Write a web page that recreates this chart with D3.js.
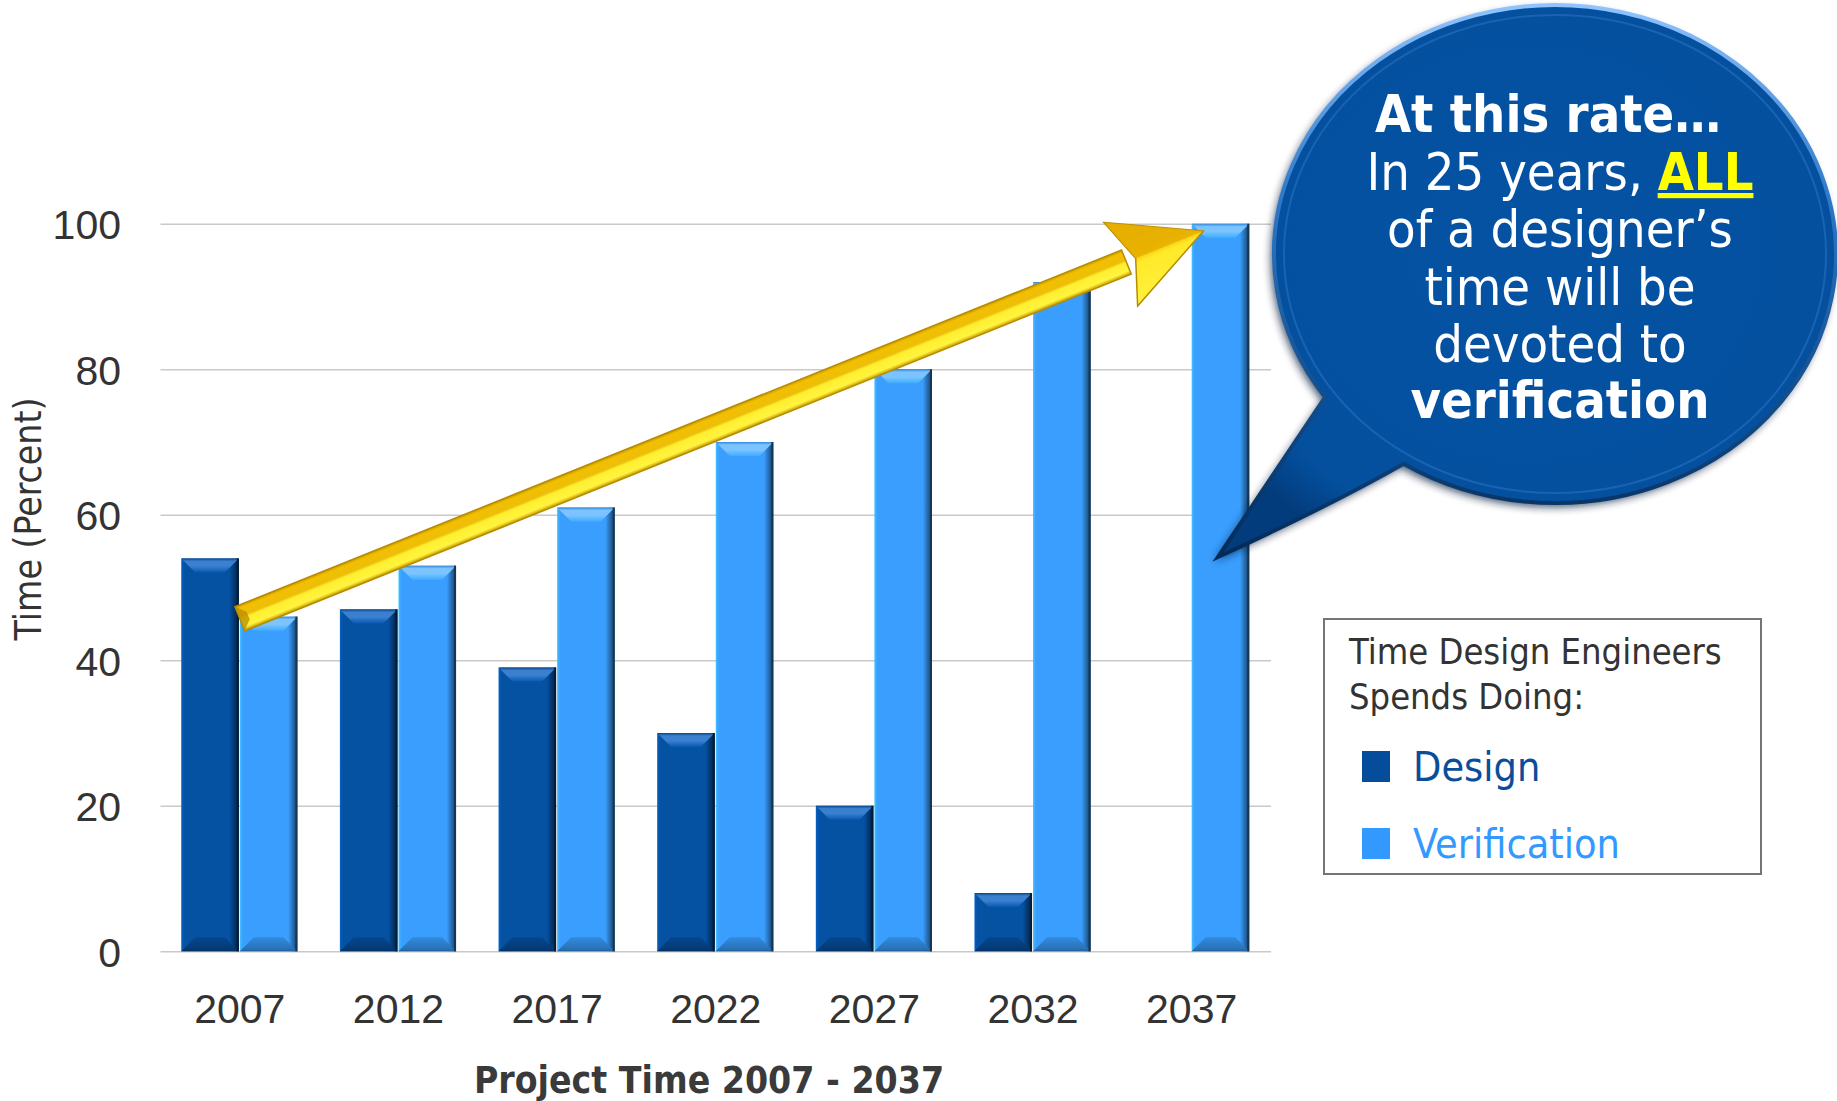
<!DOCTYPE html>
<html>
<head>
<meta charset="utf-8">
<script src="https://cdn.jsdelivr.net/npm/d3@7"></script>
<style>
  html, body { margin: 0; padding: 0; background: #ffffff; }
  svg { display: block; font-family: "DejaVu Sans", Verdana, sans-serif; font-stretch: condensed; }
</style>
</head>
<body>
<svg id="chart" width="1837" height="1101"></svg>
<script>
// ---- data ----
const years = ["2007", "2012", "2017", "2022", "2027", "2032", "2037"];
const designValues = [54, 47, 39, 30, 20, 8, 0];
const verificationValues = [46, 53, 61, 70, 80, 92, 100];
const seriesNames = ["Design", "Verification"];
const yTicks = [0, 20, 40, 60, 80, 100];
const legendTitle = ["Time Design Engineers", "Spends Doing:"];
const xAxisTitle = "Project Time 2007 - 2037";
const yAxisTitle = "Time (Percent)";
// trend arrow runs from the 2007 group to the top of the 2037 verification bar
const trendStart = { year: "2007", value: 45.7 };
const trendEnd = { year: "2037", value: 99 };
const calloutLines = [
  [{ t: "At this rate…", bold: true }],
  [{ t: "In 25 years, " }, { t: "ALL", bold: true, accent: true }],
  [{ t: "of a designer’s" }],
  [{ t: "time will be" }],
  [{ t: "devoted to" }],
  [{ t: "verification", bold: true }]
];

// ---- layout ----
const W = 1837, H = 1101;
const plot = { left: 160.5, right: 1271, top: 223.8, bottom: 951.3 };
const seriesColors = { Design: "#0551A2", Verification: "#399EFE" };
const bevelTop = { Design: "#3B80CF", Verification: "#7CC4FF" };

const svg = d3.select("#chart");
const defs = svg.append("defs");

const x0 = d3.scaleBand().domain(years).range([plot.left, plot.right])
  .paddingInner(0.2615).paddingOuter(0.13075);
const x1 = d3.scaleBand().domain(seriesNames).range([0, x0.bandwidth()]).padding(0);
const y = d3.scaleLinear().domain([0, 100]).range([plot.bottom, plot.top]);

// ---- gridlines + y axis ----
const yAxis = d3.axisLeft(y).tickValues(yTicks).tickSize(-(plot.right - plot.left)).tickPadding(40);
const gy = svg.append("g").attr("transform", `translate(${plot.left},0)`).call(yAxis);
gy.select(".domain").remove();
gy.selectAll(".tick line").attr("stroke", "#c9c9c9").attr("stroke-width", 1.6);
gy.selectAll(".tick text")
  .attr("fill", "#333333")
  .attr("font-size", 41)
  .attr("dy", "0.36em")
  .attr("x", 121 - plot.left);

// ---- x axis labels ----
const xAxis = d3.axisBottom(x0).tickSize(0).tickPadding(0);
const gx = svg.append("g").attr("transform", `translate(0,${plot.bottom})`).call(xAxis);
gx.select(".domain").remove();
gx.selectAll(".tick text")
  .attr("fill", "#333333")
  .attr("font-size", 41)
  .attr("y", 72)
  .attr("dy", 0);

// axis titles
svg.append("text")
  .attr("x", 709).attr("y", 1093)
  .attr("text-anchor", "middle")
  .attr("font-size", 37).attr("font-weight", "bold")
  .attr("fill", "#3a3a3a")
  .text(xAxisTitle);

svg.append("text")
  .attr("transform", "translate(41,519) rotate(-90)")
  .attr("text-anchor", "middle")
  .attr("font-size", 37)
  .attr("fill", "#333333")
  .text(yAxisTitle);

// ---- bevelled bar gradients ----
function barGradients(name, c, light) {
  const base = d3.color(c);
  const side = defs.append("linearGradient").attr("id", `side-${name}`)
    .attr("x1", 0).attr("x2", 1).attr("y1", 0).attr("y2", 0);
  [[0, base.brighter(0.6)], [0.03, base.brighter(0.2)], [0.06, base], [0.84, base], [0.93, base.darker(1.2)], [1, base.darker(2.6)]]
    .forEach(([o, col]) => side.append("stop").attr("offset", o).attr("stop-color", col));
  const top = defs.append("linearGradient").attr("id", `top-${name}`)
    .attr("x1", 0).attr("x2", 0).attr("y1", 0).attr("y2", 1);
  [[0, base.darker(0.4)], [0.2, light], [0.55, light], [1, base.brighter(0.25)]]
    .forEach(([o, col]) => top.append("stop").attr("offset", o).attr("stop-color", col));
  const bot = defs.append("linearGradient").attr("id", `bot-${name}`)
    .attr("x1", 0).attr("x2", 0).attr("y1", 0).attr("y2", 1);
  [[0, base.darker(0.35)], [0.8, base.darker(0.9)], [1, base.darker(1.4)]]
    .forEach(([o, col]) => bot.append("stop").attr("offset", o).attr("stop-color", col));
}
seriesNames.forEach(s => barGradients(s, seriesColors[s], bevelTop[s]));

const barData = years.flatMap((yr, i) => [
  { year: yr, series: "Design", value: designValues[i] },
  { year: yr, series: "Verification", value: verificationValues[i] }
]).filter(d => d.value > 0);

svg.append("g").selectAll("g.bar").data(barData).join("g").attr("class", "bar")
  .each(function (d) {
    const g = d3.select(this);
    const bx = x0(d.year) + x1(d.series);
    const bw = x1.bandwidth() - 1;
    const by = y(d.value);
    const bh = y(0) - by;
    const b = Math.min(14, bh / 2);
    g.append("rect").attr("x", bx).attr("y", by).attr("width", bw).attr("height", bh)
      .attr("fill", `url(#side-${d.series})`);
    g.append("path")
      .attr("d", `M${bx},${by}L${bx + bw},${by}L${bx + bw - b},${by + b}L${bx + b},${by + b}Z`)
      .attr("fill", `url(#top-${d.series})`);
    g.append("path")
      .attr("d", `M${bx},${by + bh}L${bx + bw},${by + bh}L${bx + bw - b},${by + bh - b}L${bx + b},${by + bh - b}Z`)
      .attr("fill", `url(#bot-${d.series})`);
    g.append("rect").attr("x", bx + bw - 2).attr("y", by).attr("width", 2).attr("height", bh)
      .attr("fill", d3.color(seriesColors[d.series]).darker(3));
  });

// ---- trend arrow ----
const ax0 = x0(trendStart.year) + x0.bandwidth() / 2, ay0 = y(trendStart.value);
const ax1 = x0(trendEnd.year) + x1("Verification") + x1.bandwidth() * 0.2, ay1 = y(trendEnd.value);
const aLen = Math.hypot(ax1 - ax0, ay1 - ay0);
const aAng = Math.atan2(ay1 - ay0, ax1 - ax0) * 180 / Math.PI;
const sw = 13, hl = 89, hw = 45;
const gold = defs.append("linearGradient").attr("id", "gold").attr("gradientUnits", "userSpaceOnUse")
  .attr("x1", 0).attr("y1", -sw).attr("x2", 0).attr("y2", sw);
[[0, "#C99A00"], [0.12, "#F2C000"], [0.42, "#EDBE0A"], [0.52, "#FFEF30"], [0.85, "#FFF43E"], [1, "#C59700"]]
  .forEach(([o, c]) => gold.append("stop").attr("offset", o).attr("stop-color", c));
const headGold = defs.append("linearGradient").attr("id", "headGold").attr("gradientUnits", "userSpaceOnUse")
  .attr("x1", 0).attr("y1", -hw).attr("x2", 0).attr("y2", hw);
[[0, "#E2AE00"], [0.45, "#F2BF05"], [0.55, "#FFE92A"], [1, "#FFF23C"]]
  .forEach(([o, c]) => headGold.append("stop").attr("offset", o).attr("stop-color", c));

const arrow = svg.append("g").attr("transform", `translate(${ax0},${ay0}) rotate(${aAng})`);
const L = aLen;
arrow.append("path")
  .attr("d", `M0,${-sw}L${L - hl + 6},${-sw}L${L - hl + 6},${sw}L0,${sw}Z`)
  .attr("fill", "url(#gold)").attr("stroke", "#B78C00").attr("stroke-width", 1.5);
arrow.append("path")
  .attr("d", `M${L - hl},${-hw}L${L},0L${L - hl},${hw}L${L - hl + 16},0Z`)
  .attr("fill", "url(#headGold)").attr("stroke", "#B78C00").attr("stroke-width", 1.5).attr("stroke-linejoin", "miter");
// bevel facets
arrow.append("path")
  .attr("d", `M0,${-sw}L9,${-sw + 9}L9,${sw - 9}L0,${sw}Z`).attr("fill", "#B88B00").attr("opacity", 0.75);
arrow.append("path")
  .attr("d", `M${L - hl},${-hw}L${L},0L${L - hl + 16},0Z`).attr("fill", "#E6AE00").attr("opacity", 0.8);

// ---- speech bubble ----
const bc = { cx: 1555, cy: 254, rx: 281, ry: 249 };
const tip = [1218, 557];
const ta = 144.9 * Math.PI / 180, tb = 122.6 * Math.PI / 180;
const pA = [bc.cx + bc.rx * Math.cos(ta), bc.cy + bc.ry * Math.sin(ta)];
const pB = [bc.cx + bc.rx * Math.cos(tb), bc.cy + bc.ry * Math.sin(tb)];
const bubblePath = `M${pB[0]},${pB[1]}Q${pB[0] - 70},${pB[1] + 40} ${tip[0]},${tip[1]}` +
  `Q${pA[0] - 40},${pA[1] + 60} ${pA[0]},${pA[1]}` +
  `A${bc.rx},${bc.ry} 0 1 1 ${pB[0]},${pB[1]}Z`;

const shadow = defs.append("filter").attr("id", "bshadow").attr("x", -0.2).attr("y", -0.2).attr("width", 1.4).attr("height", 1.4);
shadow.append("feGaussianBlur").attr("stdDeviation", 4);
const bfill = defs.append("radialGradient").attr("id", "bfill").attr("cx", 0.5).attr("cy", 0.45).attr("r", 0.6);
[[0, "#0552A3"], [0.85, "#04509F"], [1, "#033C7C"]]
  .forEach(([o, c]) => bfill.append("stop").attr("offset", o).attr("stop-color", c));
const rim = defs.append("linearGradient").attr("id", "rim").attr("x1", 0).attr("y1", 0).attr("x2", 0).attr("y2", 1);
[[0, "#8fc4ff"], [0.35, "#2d78c8"], [1, "#022a58"]]
  .forEach(([o, c]) => rim.append("stop").attr("offset", o).attr("stop-color", c));

const bubble = svg.append("g");
bubble.append("path").attr("d", bubblePath)
  .attr("fill", "#021b3a").attr("opacity", 0.75)
  .attr("transform", "translate(-3,4)").attr("filter", "url(#bshadow)");
bubble.append("path").attr("d", bubblePath).attr("fill", "url(#bfill)")
  .attr("stroke", "url(#rim)").attr("stroke-width", 4);
bubble.append("ellipse")
  .attr("cx", bc.cx).attr("cy", bc.cy).attr("rx", bc.rx - 10).attr("ry", bc.ry - 10)
  .attr("fill", "none").attr("stroke", "#3f86d6").attr("stroke-width", 2).attr("opacity", 0.35);

const lineY = [132, 190, 247, 305, 362, 418];
const lineX = [1548, 1560, 1560, 1560, 1560, 1560];
calloutLines.forEach((parts, i) => {
  const t = bubble.append("text").attr("text-anchor", "middle")
    .attr("x", lineX[i]).attr("y", lineY[i]).attr("fill", "#ffffff").attr("font-size", 52);
  parts.forEach(p => {
    const ts = t.append("tspan").text(p.t);
    if (p.bold) ts.attr("font-weight", "bold");
    if (p.accent) ts.attr("fill", "#FFFF00").style("text-decoration", "underline");
  });
});

// ---- legend ----
const lg = svg.append("g");
lg.append("rect").attr("x", 1324).attr("y", 619).attr("width", 437).attr("height", 255)
  .attr("fill", "#ffffff").attr("stroke", "#757575").attr("stroke-width", 2);
legendTitle.forEach((t, i) => {
  lg.append("text").attr("x", 1349).attr("y", 664 + i * 45)
    .attr("font-size", 36).attr("fill", "#333333").text(t);
});
seriesNames.forEach((s, i) => {
  const ly = 751 + i * 77;
  lg.append("rect").attr("x", 1362).attr("y", ly).attr("width", 28).attr("height", 31)
    .attr("fill", s === "Design" ? "#054C9A" : "#3399FF");
  lg.append("text").attr("x", 1413).attr("y", ly + 30)
    .attr("font-size", 41)
    .attr("fill", s === "Design" ? "#0A4E9B" : "#3399FF").text(s);
});
</script>
</body>
</html>
